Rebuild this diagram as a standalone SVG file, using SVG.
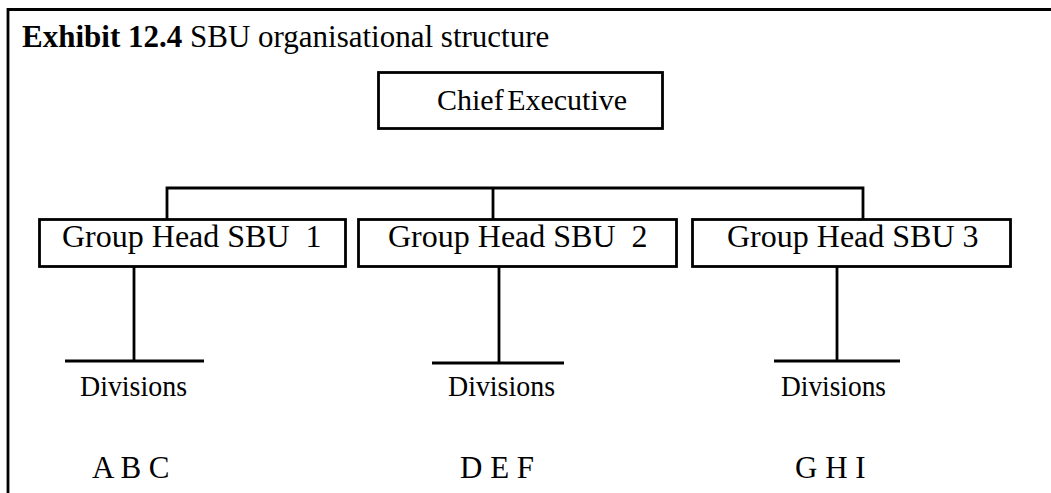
<svg xmlns="http://www.w3.org/2000/svg" width="1051" height="493" viewBox="0 0 1051 493">
<style>
  .t { font-family: "Liberation Serif", "Times New Roman", serif; fill: #000; }
  .box { fill: #fff; stroke: #000; stroke-width: 2.8; }
  .ln { stroke: #000; stroke-width: 2.8; fill: none; }
</style>
<rect width="1051" height="493" fill="#fff"/>
<g id="frame">
  <path class="ln" d="M8 493 V9.5 H1051" stroke-width="3"/>
</g>
<g id="title">
  <text class="t" x="22" y="47" font-size="31"><tspan font-weight="bold">Exhibit 12.4</tspan> SBU organisational structure</text>
</g>
<g id="connectors">
  <path class="ln" d="M167 219 V188 H863 V219"/>
  <path class="ln" d="M493 188 V219"/>
  <path class="ln" d="M134 267 V361 M65 361 H204"/>
  <path class="ln" d="M499 267 V363 M432 363 H564"/>
  <path class="ln" d="M837 267 V361 M774 361 H900"/>
</g>
<g id="chief">
  <rect class="box" x="378.5" y="72.5" width="284" height="56"/>
  <text class="t" x="437" y="110" font-size="30" word-spacing="-4">Chief Executive</text>
</g>
<g id="sbu1">
  <rect class="box" x="39.5" y="219.5" width="306" height="47"/>
  <text class="t" x="62" y="247" font-size="32" xml:space="preserve">Group Head SBU  1</text>
</g>
<g id="sbu2">
  <rect class="box" x="358.5" y="219.5" width="318" height="47"/>
  <text class="t" x="388" y="247" font-size="32" xml:space="preserve">Group Head SBU  2</text>
</g>
<g id="sbu3">
  <rect class="box" x="692.5" y="219.5" width="318" height="47"/>
  <text class="t" x="727" y="247" font-size="32">Group Head SBU 3</text>
</g>
<g id="div1">
  <text class="t" x="80" y="396" font-size="30" textLength="107" lengthAdjust="spacingAndGlyphs">Divisions</text>
  <text class="t" x="92" y="478" font-size="31">A B C</text>
</g>
<g id="div2">
  <text class="t" x="448" y="396" font-size="30" textLength="107" lengthAdjust="spacingAndGlyphs">Divisions</text>
  <text class="t" x="460" y="478" font-size="31">D E F</text>
</g>
<g id="div3">
  <text class="t" x="781" y="396" font-size="30" textLength="105" lengthAdjust="spacingAndGlyphs">Divisions</text>
  <text class="t" x="795" y="478" font-size="31">G H I</text>
</g>
</svg>
